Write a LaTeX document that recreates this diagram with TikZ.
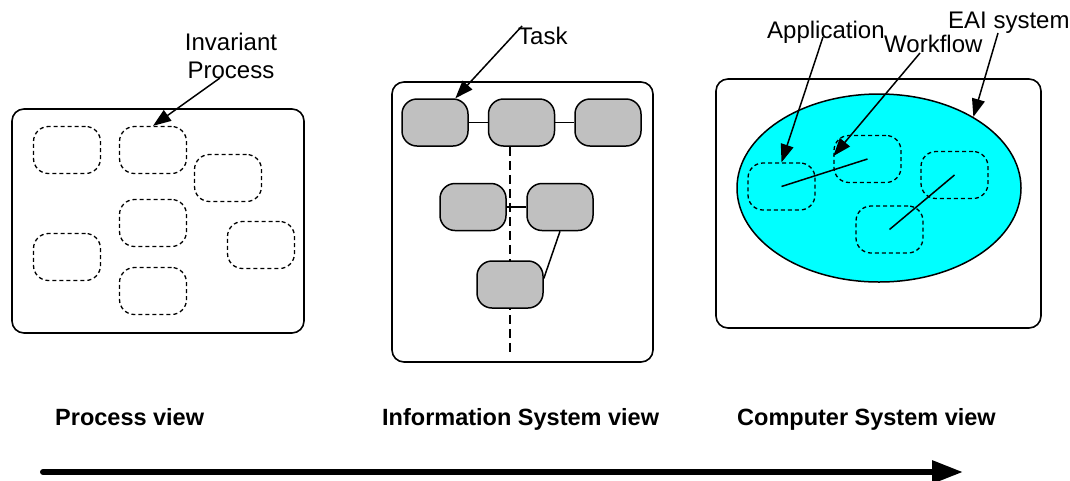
\documentclass[tikz,border=0pt]{standalone}
\usepackage{fontspec}
\setmainfont{Liberation Sans}
\usetikzlibrary{arrows.meta,shapes.geometric,backgrounds}
\definecolor{taskgray}{RGB}{192,192,192}
\definecolor{eaicyan}{RGB}{0,255,255}
\begin{document}
\begin{tikzpicture}[x=1pt,y=-1pt,
  frame/.style={draw,line width=1.6pt,rounded corners=12pt,rectangle,inner sep=0pt},
  procbox/.style={draw,rectangle,dash pattern=on 4pt off 3pt,line width=1.3pt,
    rounded corners=15pt,minimum width=67pt,minimum height=47pt,inner sep=0pt},
  taskbox/.style={draw,rectangle,fill=taskgray,line width=1.5pt,rounded corners=15pt,
    minimum width=66pt,minimum height=47pt,inner sep=0pt},
  lbl/.style={anchor=base west,inner sep=0pt,font=\fontsize{24}{28}\selectfont},
  viewlbl/.style={anchor=base west,inner sep=0pt,font=\fontsize{23.5}{28}\selectfont\bfseries},
  pointer/.style={line width=1.5pt,-{Triangle[length=18pt,width=13pt]}},
  link/.style={line width=1.5pt},
]
\useasboundingbox (0,0) rectangle (1070,480);

% ---------- Process view ----------
\node[frame,minimum width=292pt,minimum height=224pt] (pframe) at (158,221) {};
\node[procbox] (p1) at (67,150) {};
\node[procbox] (p2) at (153,150) {};
\node[procbox] (p3) at (228,178) {};
\node[procbox] (p4) at (153,223) {};
\node[procbox] (p5) at (67,257) {};
\node[procbox] (p6) at (261,245) {};
\node[procbox] (p7) at (153,291) {};
\node[inner sep=0pt,align=center,font=\fontsize{24}{28}\selectfont] (invlbl) at (231,56) {Invariant\\Process};
\coordinate (invTail) at (220,78);
\draw[pointer] (invTail) -- (p2.north);

% ---------- Information System view ----------
\node[frame,minimum width=261pt,minimum height=280pt] (iframe) at (522.5,222) {};
\node[taskbox] (t1) at (435,122.5) {};
\node[taskbox] (t2) at (521.5,122.5) {};
\node[taskbox] (t3) at (608,122.5) {};
\node[taskbox] (t4) at (473,207) {};
\node[taskbox] (t5) at (560,207) {};
\node[taskbox] (t6) at (510,284.5) {};
\coordinate (isEnd) at (510,352);
\begin{scope}[on background layer]
  \draw[line width=1.3pt,dash pattern=on 9pt off 5pt] (t6.center |- t2.south) -- (isEnd);
\end{scope}
\draw[link] (t1) -- (t2);
\draw[link] (t2) -- (t3);
\draw[link] (t4) -- (t5);
\draw[link] (t5.south) -- (t6.10);
\node[lbl] (tasklbl) at (518,44) {Task};
\coordinate (taskTail) at (522,26);
\draw[pointer] (taskTail) -- (t1.50);

% ---------- Computer System view ----------
\node[frame,minimum width=325pt,minimum height=249pt] (cframe) at (878.5,203.5) {};
\node[draw,ellipse,fill=eaicyan,line width=1.5pt,minimum width=284pt,minimum height=188pt,inner sep=0pt] (eai) at (879,188) {};
\node[procbox] (a1) at (781.5,186.5) {};
\node[procbox] (a2) at (867.5,159) {};
\node[procbox] (a3) at (954.5,175) {};
\node[procbox] (a4) at (889.5,229.5) {};
\draw[link] (a1.center) -- (a2.center);
\draw[link] (a4.center) -- (a3.center);
\node[lbl] (applbl) at (767,38) {Application};
\node[lbl] (wflbl) at (884,52) {Workflow};
\node[lbl] (eailbl) at (948,28) {EAI system};
\coordinate (appTail) at (823,37);
\coordinate (wfTail) at (920,53);
\coordinate (eaiTail) at (998,33);
\draw[pointer] (appTail) -- (a1.north);
\draw[pointer] (wfTail) -- (a2.175);
\draw[pointer] (eaiTail) -- (eai.37);

% ---------- view captions ----------
\node[viewlbl] (cap1) at (55,425) {Process view};
\node[viewlbl] (cap2) at (382,425) {Information System view};
\node[viewlbl] (cap3) at (737,425) {Computer System view};

% ---------- progression arrow ----------
\coordinate (flowStart) at (43,472);
\coordinate (flowEnd) at (963,472);
\draw[line width=6pt,line cap=round,-{Triangle[length=31pt,width=22pt]}] (flowStart) -- (flowEnd);
\end{tikzpicture}
\end{document}
